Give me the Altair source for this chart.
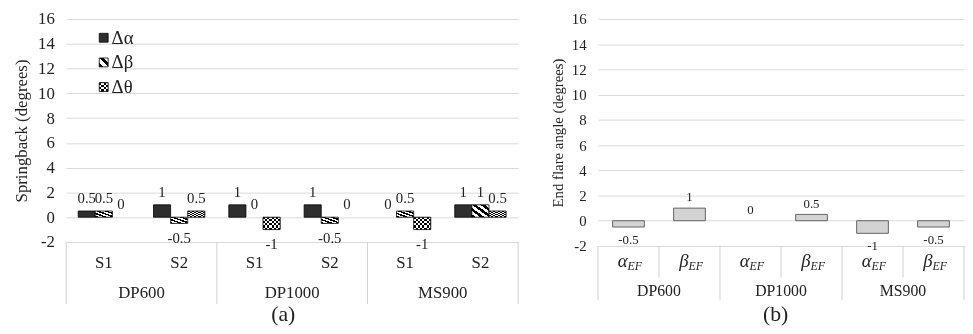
import altair as alt
import pandas as pd

# ---------------- data ----------------
groups = ["DP600", "DP1000", "MS900"]
subs_a = ["S1", "S2"]
series_a = ["Δα", "Δβ", "Δθ"]
d_alpha = [0.5, 1, 1, 1, 0, 1]
d_beta = [0.5, -0.5, 0, -0.5, 0.5, 1]
d_theta = [0, 0.5, -1, 0, -1, 0.5]
subs_b = ["α", "β"]
end_flare = [-0.5, 1, 0, 0.5, -1, -0.5]
y_ticks = [-2, 0, 2, 4, 6, 8, 10, 12, 14, 16]

FONT = "Liberation Serif"
TXT = "#222222"
GRID = "#d9d9d9"
SEP = "#d0d0d0"
WA, HA = 458, 226
WB, HB = 371, 230


def fmt(v):
    return f"{v:g}"


def stripes(n, c1, c2, x1, y1, x2, y2, frac=0.5):
    stops = []
    for k in range(n):
        a = k / n
        b = (k + frac) / n
        c = (k + 1) / n
        stops += [dict(offset=a, color=c1), dict(offset=b, color=c1),
                  dict(offset=b, color=c2), dict(offset=min(c, 1.0), color=c2)]
    return dict(gradient="linear", x1=x1, y1=y1, x2=x2, y2=y2, stops=stops)


def yaxis(title, fs, tpad):
    return alt.Axis(values=y_ticks, grid=True, gridColor=GRID, gridWidth=1, domain=False, ticks=False,
                    labelExpr="'' + datum.value",
                    labelFont=FONT, labelFontSize=fs, labelColor=TXT, labelPadding=12,
                    title=title, titleFont=FONT, titleFontSize=fs, titleFontWeight="normal",
                    titleColor=TXT, titlePadding=tpad)


# ---------------- panel (a) ----------------
cats_a = [f"{g} {s}" for g in groups for s in subs_a]
rows = []
for name, vals in zip(series_a, [d_alpha, d_beta, d_theta]):
    for ci, v in enumerate(vals):
        rows.append(dict(cat=cats_a[ci], group=groups[ci // 2], sub=subs_a[ci % 2],
                         series=name, value=v, lab=fmt(v)))
df_a = pd.DataFrame(rows)
cat_df_a = pd.DataFrame({"cat": cats_a, "sub": [subs_a[i % 2] for i in range(6)],
                         "group": [groups[i // 2] for i in range(6)]})

xsc_a = alt.Scale(domain=cats_a, paddingInner=0, paddingOuter=0)
xa = alt.X("cat:N", scale=xsc_a, axis=None)
xoff = alt.XOffset("series:N", scale=alt.Scale(domain=series_a, paddingInner=0, paddingOuter=0.7))
ya = alt.Y("value:Q", scale=alt.Scale(domain=[-2, 16], nice=False, zero=False),
           axis=yaxis("Springback (degrees)", 17, 7))

base_a = alt.Chart(df_a)


def bar_a(series, **mark):
    return (base_a.transform_filter((alt.datum.series == series) & (alt.datum.value != 0))
            .mark_bar(**mark)
            .encode(x=xa, xOffset=xoff, y=ya, y2=alt.datum(0)))


STK = dict(stroke="#000000", strokeWidth=0.8)
l_alpha = bar_a("Δα", fill="#2e2e2e", **STK)
l_beta = bar_a("Δβ", fill=stripes(4, "#000000", "#ffffff", 0, 1, 1, 0), **STK)
l_th1 = bar_a("Δθ", fill=stripes(4, "#ffffff", "#000000", 0, 0, 1, 0))
l_th2 = bar_a("Δθ", fill=stripes(3, "#ffffff", "#000000", 0, 0, 0, 1), blend="difference")
l_th3 = bar_a("Δθ", fillOpacity=0, **STK)

lab_pos_a = base_a.transform_filter(alt.datum.value >= 0).mark_text(
    baseline="bottom", dy=-5, font=FONT, fontSize=15, color=TXT
).encode(x=xa, xOffset=xoff, y=ya, text="lab:N")
lab_neg_a = base_a.transform_filter(alt.datum.value < 0).mark_text(
    baseline="top", dy=8, font=FONT, fontSize=15, color=TXT
).encode(x=xa, xOffset=xoff, y=ya, text="lab:N")

sep_a = alt.Chart(pd.DataFrame({"cat": [cats_a[0], cats_a[2], cats_a[4]]})).mark_rule(
    color=SEP, strokeWidth=1
).encode(x=alt.X("cat:N", scale=xsc_a, axis=None, bandPosition=0),
         y=alt.value(HA), y2=alt.value(HA + 63))
sep_a_end = alt.Chart(pd.DataFrame({"cat": [cats_a[5]]})).mark_rule(
    color=SEP, strokeWidth=1
).encode(x=alt.X("cat:N", scale=xsc_a, axis=None, bandPosition=1),
         y=alt.value(HA), y2=alt.value(HA + 63))

sub_lab_a = alt.Chart(cat_df_a).mark_text(
    baseline="middle", font=FONT, fontSize=17, color=TXT
).encode(x=xa, y=alt.value(HA + 21), text="sub:N")
grp_lab_a = alt.Chart(cat_df_a[cat_df_a["sub"] == "S1"]).mark_text(
    baseline="middle", font=FONT, fontSize=17, color=TXT
).encode(x=alt.X("cat:N", scale=xsc_a, axis=None, bandPosition=1),
         y=alt.value(HA + 52), text="group:N")
cap_a = alt.Chart(pd.DataFrame({"t": ["(a)"]})).mark_text(
    baseline="middle", font=FONT, fontSize=22, color=TXT
).encode(x=alt.value(220), y=alt.value(HA + 73), text="t:N")

# legend for (a)
leg_y = [19, 44, 69]
leg_x = 38
leg_fills = [
    [dict(fill="#2e2e2e", **STK)],
    [dict(fill=stripes(2, "#000000", "#ffffff", 0, 1, 1, 0), **STK)],
    [dict(fill=stripes(2, "#ffffff", "#000000", 0, 0, 1, 0)),
     dict(fill=stripes(2, "#ffffff", "#000000", 0, 0, 0, 1), blend="difference"),
     dict(fillOpacity=0, **STK)],
]
legend_layers = []
for name, yy, fills in zip(series_a, leg_y, leg_fills):
    src = alt.Chart(pd.DataFrame({"s": [name]}))
    for f in fills:
        legend_layers.append(src.mark_square(size=81, opacity=1, **f).encode(
            x=alt.value(leg_x), y=alt.value(yy)))
    legend_layers.append(src.mark_text(align="left", baseline="middle", font=FONT,
                                       fontSize=19, color=TXT).encode(
        x=alt.value(leg_x + 8), y=alt.value(yy), text="s:N"))

chart_a = alt.layer(
    l_alpha, l_beta, l_th1, l_th2, l_th3, lab_pos_a, lab_neg_a,
    sep_a, sep_a_end, sub_lab_a, grp_lab_a, cap_a, *legend_layers
).properties(width=WA, height=HA)

# ---------------- panel (b) ----------------
cats_b = [f"{g} {s}" for g in groups for s in subs_b]
df_b = pd.DataFrame({
    "cat": cats_b,
    "group": [groups[i // 2] for i in range(6)],
    "sub": [subs_b[i % 2] for i in range(6)],
    "value": end_flare,
    "lab": [fmt(v) for v in end_flare],
})
xsc_b = alt.Scale(domain=cats_b, paddingInner=0, paddingOuter=0)
xb = alt.X("cat:N", scale=xsc_b, axis=None)
yb = alt.Y("value:Q", scale=alt.Scale(domain=[-2, 16], nice=False, zero=False),
           axis=yaxis("End flare angle (degrees)", 15, 6))
base_b = alt.Chart(df_b)

bars_b = base_b.transform_filter(alt.datum.value != 0).mark_bar(
    width=alt.RelativeBandSize(0.52), fill="#d3d3d3", stroke="#555555", strokeWidth=0.9
).encode(x=xb, y=yb, y2=alt.datum(0))
lab_pos_b = base_b.transform_filter(alt.datum.value >= 0).mark_text(
    baseline="bottom", dy=-4, font=FONT, fontSize=13, color=TXT
).encode(x=xb, y=yb, text="lab:N")
lab_neg_b = base_b.transform_filter(alt.datum.value < 0).mark_text(
    baseline="top", dy=7, font=FONT, fontSize=13, color=TXT
).encode(x=xb, y=yb, text="lab:N")

sep_b_in = alt.Chart(df_b[df_b["sub"] == "β"]).mark_rule(color=SEP).encode(
    x=alt.X("cat:N", scale=xsc_b, axis=None, bandPosition=0),
    y=alt.value(HB), y2=alt.value(HB + 32))
sep_b = alt.Chart(df_b[df_b["sub"] == "α"]).mark_rule(color=SEP).encode(
    x=alt.X("cat:N", scale=xsc_b, axis=None, bandPosition=0),
    y=alt.value(HB), y2=alt.value(HB + 55))
sep_b_end = alt.Chart(df_b.tail(1)).mark_rule(color=SEP).encode(
    x=alt.X("cat:N", scale=xsc_b, axis=None, bandPosition=1),
    y=alt.value(HB), y2=alt.value(HB + 55))

sub_main_b = base_b.mark_text(align="right", baseline="middle", dx=-1, font=FONT,
                              fontStyle="italic", fontSize=19, color=TXT).encode(
    x=xb, y=alt.value(HB + 15), text="sub:N")
sub_idx_b = base_b.mark_text(align="left", baseline="middle", dx=-1, dy=5, font=FONT,
                             fontStyle="italic", fontSize=12, color=TXT).encode(
    x=xb, y=alt.value(HB + 15), text=alt.value("EF"))
grp_lab_b = alt.Chart(df_b[df_b["sub"] == "α"]).mark_text(
    baseline="middle", font=FONT, fontSize=16, color=TXT
).encode(x=alt.X("cat:N", scale=xsc_b, axis=None, bandPosition=1),
         y=alt.value(HB + 46), text="group:N")
cap_b = alt.Chart(pd.DataFrame({"t": ["(b)"]})).mark_text(
    baseline="middle", font=FONT, fontSize=22, color=TXT
).encode(x=alt.value(180), y=alt.value(HB + 69), text="t:N")

chart_b = alt.layer(
    bars_b, lab_pos_b, lab_neg_b, sep_b_in, sep_b, sep_b_end,
    sub_main_b, sub_idx_b, grp_lab_b, cap_b
).properties(width=WB, height=HB)

chart = alt.hconcat(chart_a, chart_b, spacing=32).properties(
    padding={"left": 5, "top": 0, "right": 0, "bottom": 0},
    background="white",
).configure_view(strokeWidth=0)

chart.save("out.html", embed_options={"renderer": "svg", "actions": False})
